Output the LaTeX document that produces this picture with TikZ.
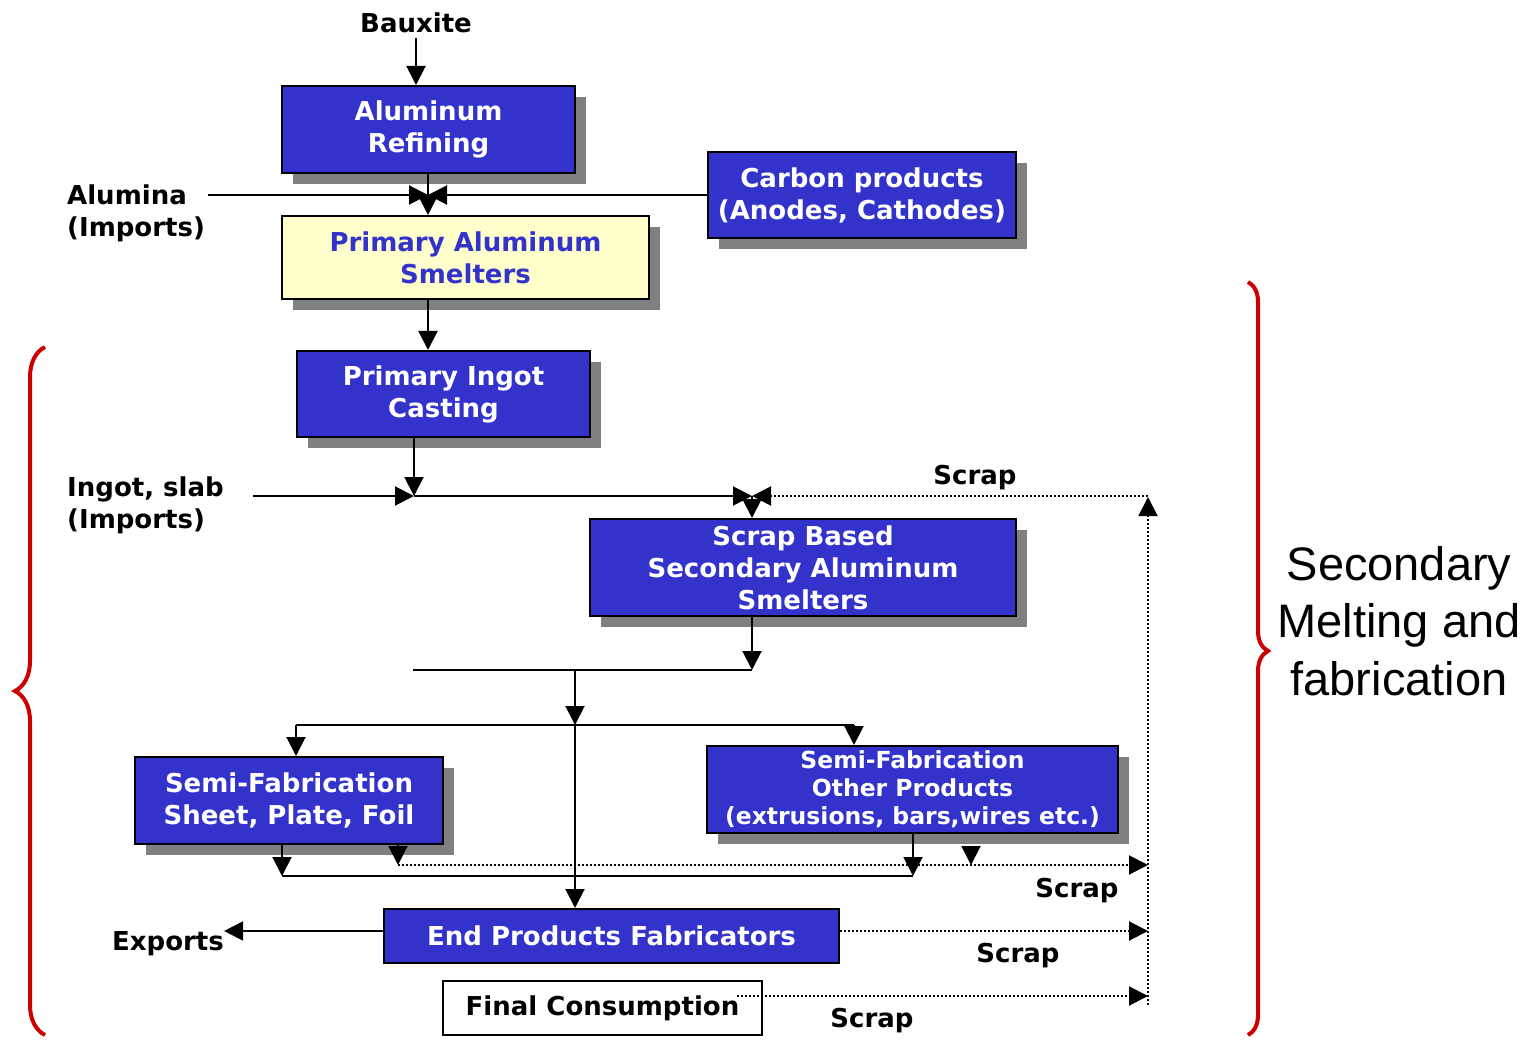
\documentclass[tikz,border=0pt]{standalone}
\usepackage{fontspec}
\setmainfont{DejaVu Sans}
\newfontfamily\arialfont{Liberation Sans}
\usepackage{xcolor}
\usetikzlibrary{positioning, arrows.meta, decorations.pathreplacing, shadows}
\definecolor{boxblue}{HTML}{3333CC}
\definecolor{paleyellow}{HTML}{FFFFCC}
\definecolor{bracered}{HTML}{CC0000}

\begin{document}
\begin{tikzpicture}[x=1pt, y=-1pt,
  every node/.style={inner sep=0pt, font=\fontsize{26}{32}\selectfont\bfseries},
  flow/.style={draw=black, line width=2pt, fill=boxblue, text=white, align=center},
  shade/.style={drop shadow={shadow xshift=11pt, shadow yshift=-11pt, fill=black!50, opacity=1}},
  arr/.style={-{Triangle[length=19pt,width=19pt]}, line width=2pt},
  ln/.style={line width=2pt},
  dots/.style={dotted, line width=1.5pt},
  curly/.style={decorate, line width=4pt, draw=bracered}]
  \useasboundingbox (0,0) rectangle (1534,1040);

  \node[flow,shade,minimum width=293pt,minimum height=87pt] (refine) at (428.5,129.5) {Aluminum\\Refining};
  \node[flow,shade,minimum width=308pt,minimum height=86pt] (carbon) at (862,195) {Carbon products\\(Anodes, Cathodes)};
  \node[flow,shade,fill=paleyellow,text=boxblue,minimum width=367pt,minimum height=83pt] (smelter) at (465.5,257.5) {Primary Aluminum\\Smelters};
  \node[flow,shade,minimum width=293pt,minimum height=86pt] (casting) at (443.5,394) {Primary Ingot\\Casting};
  \node[flow,shade,minimum width=426pt,minimum height=97pt] (scrapsm) at (803,567.5) {Scrap Based\\Secondary Aluminum\\Smelters};
  \node[flow,shade,minimum width=308pt,minimum height=87pt] (sheet) at (289,800.5) {Semi-Fabrication\\Sheet, Plate, Foil};
  \node[flow,shade,minimum width=411pt,minimum height=87pt,font=\fontsize{23.5}{28}\selectfont\bfseries] (other) at (912.5,789.5) {Semi-Fabrication\\Other Products\\(extrusions, bars,wires etc.)};
  \node[flow,minimum width=455pt,minimum height=54pt] (endp) at (611.5,936) {End Products Fabricators};
  \node[flow,fill=white,text=black,minimum width=319pt,minimum height=54pt] (final) at (602.5,1008) {Final Consumption};

  \node (bauxite) at (416,23) {Bauxite};
  \node[anchor=west,align=left] (alumina) at (67,213) {Alumina\\(Imports)};
  \node[anchor=west,align=left] (ingot) at (67,505) {Ingot, slab\\(Imports)};
  \node (exports) at (168,944) {Exports};
  \node (scrap1) at (975,478) {Scrap};
  \node (scrap2) at (1077,891) {Scrap};
  \node (scrap3) at (1018,956) {Scrap};
  \node (scrap4) at (872,1021) {Scrap};
  \node[font=\arialfont\fontsize{47}{57.5}\selectfont,align=center] (second) at (1399,621) {Secondary\\Melting and\\fabrication};

  \coordinate (aluin) at (208,195);
  \coordinate (alumid) at (428,195);
  \coordinate (ingotin) at (253,496);
  \coordinate (j1) at (414,496);
  \coordinate (j2) at (752,496);
  \coordinate (scrapup) at (1148,496);
  \coordinate (scrapbot) at (1148,1005);
  \coordinate (j3) at (752,670);
  \coordinate (hleft) at (413,670);
  \coordinate (j4) at (575,670);
  \coordinate (j5) at (575,725);
  \coordinate (sl) at (296,725);
  \coordinate (sr) at (854,725);
  \coordinate (pl) at (282,876);
  \coordinate (pr) at (913,876);
  \coordinate (d1) at (398,865);
  \coordinate (d2) at (971,865);
  \coordinate (d3) at (1148,865);

  \draw[arr] ([yshift=-5pt]bauxite.south) -- (bauxite.south |- refine.north);
  \draw[arr] (refine.south -| alumid) -- (alumid |- smelter.north);
  \draw[arr] (aluin) -- (alumid);
  \draw[arr] (carbon.west) -- (alumid);
  \draw[arr] (smelter.south -| alumid) -- (alumid |- casting.north);

  \draw[arr] (casting.south -| j1) -- (j1);
  \draw[arr] (ingotin) -- (j1);
  \draw[arr] (j1) -- (j2);
  \draw[arr] (j2) -- (j2 |- scrapsm.north);
  \draw[dots,arr] (scrapbot) -- ([yshift=-1pt]scrapup);
  \draw[dots,arr] (scrapup) -- (j2);

  \draw[arr] (scrapsm.south -| j3) -- (j3);
  \draw[ln] (hleft) -- (j3);
  \draw[arr] (j4) -- (j5);
  \draw[ln] (sl) -- (sr);
  \draw[arr] (sl) -- (sl |- sheet.north);
  \draw[arr] (sr) -- (sr |- other.north);
  \draw[arr] (j5) -- (j5 |- endp.north);

  \draw[arr] (sheet.south -| pl) -- (pl);
  \draw[arr] (sheet.south -| d1) -- (d1);
  \draw[arr] (other.south -| pr) -- (pr);
  \draw[arr] ([yshift=-12pt]other.south -| d2) -- (d2);
  \draw[ln] (pl) -- (pr);
  \draw[dots,arr] (d1) -- (d3);

  \draw[arr] ([yshift=5pt]endp.west) -- (exports.east |- 0,931);
  \draw[dots,arr] ([yshift=5pt]endp.east) -- (scrapbot |- 0,931);
  \draw[dots,arr] ([xshift=-26pt,yshift=12pt]final.east) -- (scrapbot |- 0,996);

  \draw[curly,decoration={brace,amplitude=30pt}] (45,1035) -- (45,347);
  \draw[curly,decoration={brace,amplitude=20pt,aspect=0.49}] (1248,282) -- (1248,1035);
\end{tikzpicture}
\end{document}
